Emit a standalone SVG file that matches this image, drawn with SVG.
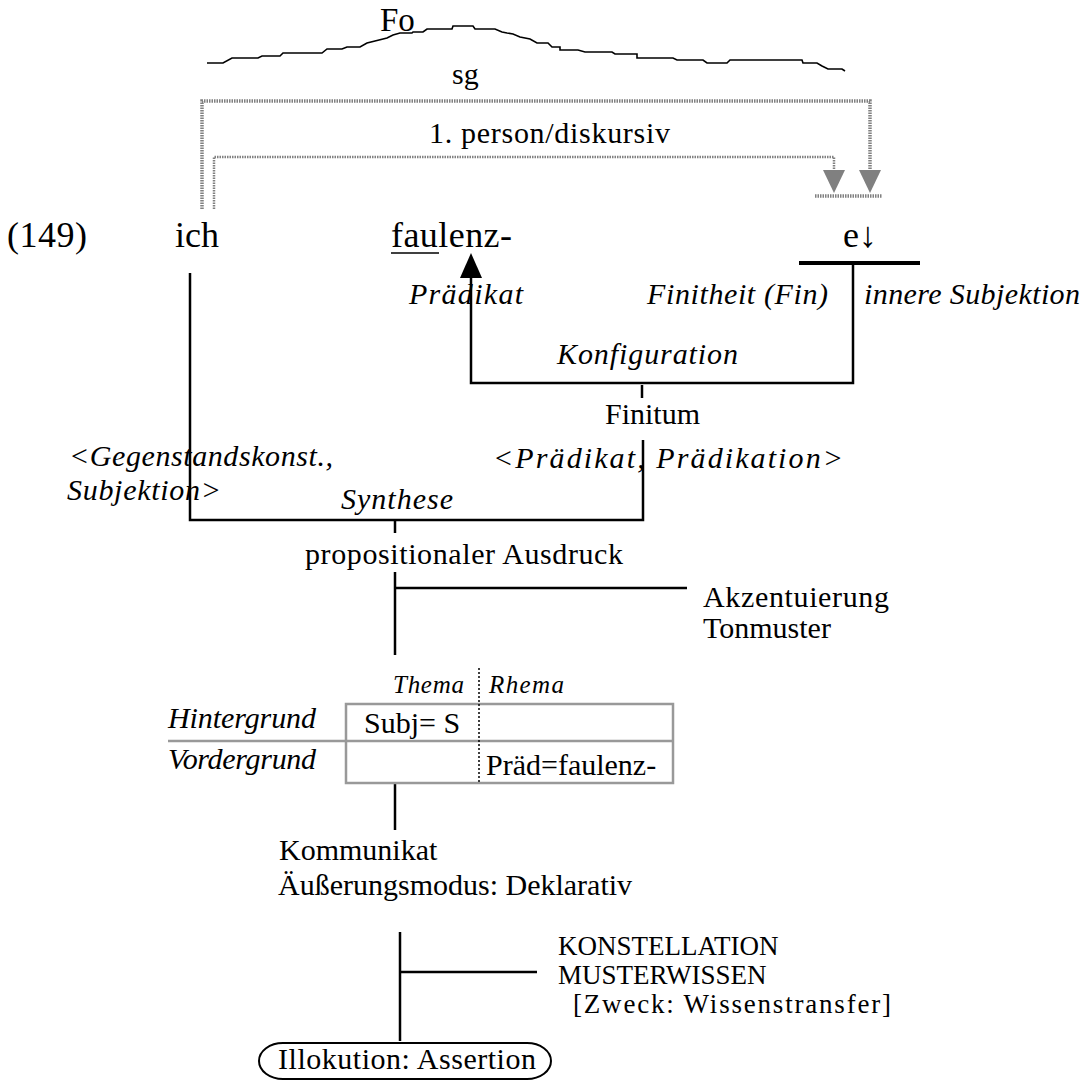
<svg xmlns="http://www.w3.org/2000/svg" width="1088" height="1081" viewBox="0 0 1088 1081">
<style>
text{font-family:"Liberation Serif","Times New Roman",serif;fill:#000}
.t{font-size:30px}
.big{font-size:36px}
.it{font-style:italic;font-size:30px}
.sm{font-style:italic;font-size:25px}
.ks{font-size:27px}
.ln{fill:none;stroke:#000;stroke-width:2.5}
.dot{fill:none;stroke:#808080;stroke-width:3.5;stroke-dasharray:1.5 1}
.gray{fill:none;stroke:#999;stroke-width:2.5}
</style>
<rect width="1088" height="1081" fill="#fff"/>
<g id="contour">
<path d="M207,63 H223 L232,58 H258 L262,56 H280 L283,53 H322 L327,49 H342 L347,47 H360 L367,43 L375,41 L387,38 L393,35 L400,33 H412 L413,32 H423 L427,29 H452 L453,26 H473 L475,29 H495 L502,32 L507,33 L513,34 L520,37 L530,39 L537,43 H548 L552,47 H560 V50 H578 L585,52 H612 L615,54 H637 V58 H673 L677,60 H703 L707,63 H727 L730,60 H802 L803,63 H817 L822,66 L828,69 H842 L845,71" fill="none" stroke="#000" stroke-width="1.6"/>
<text class="t" x="380" y="31" style="font-size:33px">Fo</text>
</g>
<g id="agreement">
<text class="t" x="452" y="84">sg</text>
<text class="t" x="429" y="143" textLength="241">1. person/diskursiv</text>
<path class="dot" d="M202,209 V101 H870 V172"/>
<path class="dot" d="M214,209 V157 H834 V172" style="stroke-width:2.5"/>
<polygon points="823,170 845,170 834,193" fill="#808080"/>
<polygon points="859,170 881,170 870,193" fill="#808080"/>
<line class="dot" x1="815" y1="196" x2="882" y2="196"/>
</g>
<g id="row">
<text class="big" x="7" y="247" textLength="80">(149)</text>
<text class="big" x="175" y="247">ich</text>
<text class="big" x="391" y="247" textLength="121">faulenz-</text>
<line x1="391" y1="253" x2="439" y2="253" stroke="#000" stroke-width="1.5"/>
<text class="big" x="843" y="247">e↓</text>
<line x1="799" y1="263" x2="920" y2="263" stroke="#000" stroke-width="4"/>
</g>
<g id="connectors">
<path class="ln" d="M471,277 V383 H853 V263"/>
<polygon points="460,278 482,278 471,253" fill="#000"/>
<line class="ln" x1="642" y1="385" x2="642" y2="398"/>
<path class="ln" d="M190,273 V520 H643 V440"/>
<line class="ln" x1="395" y1="520" x2="395" y2="533"/>
<line class="ln" x1="395" y1="572" x2="395" y2="655"/>
<line class="ln" x1="395" y1="588" x2="687" y2="588"/>
<line class="ln" x1="395" y1="783" x2="395" y2="830"/>
<line class="ln" x1="400" y1="932" x2="400" y2="1041"/>
<line class="ln" x1="400" y1="972" x2="537" y2="972"/>
</g>
<g id="labels">
<text class="it" x="409" y="304" textLength="114">Prädikat</text>
<text class="it" x="647" y="304" textLength="181">Finitheit (Fin)</text>
<text class="it" x="864" y="304" textLength="216">innere Subjektion</text>
<text class="it" x="557" y="364" textLength="181">Konfiguration</text>
<text class="t" x="605" y="424">Finitum</text>
<text class="it" x="69" y="466" textLength="264">&lt;Gegenstandskonst.,</text>
<text class="it" x="67" y="500" textLength="154">Subjektion&gt;</text>
<text class="it" x="493" y="468" textLength="350">&lt;Prädikat, Prädikation&gt;</text>
<text class="it" x="341" y="509" textLength="112">Synthese</text>
</g>
<g id="proposition">
<text class="t" x="305" y="564" textLength="318">propositionaler Ausdruck</text>
<text class="t" x="703" y="607" textLength="186">Akzentuierung</text>
<text class="t" x="703" y="638">Tonmuster</text>
</g>
<g id="table">
<text class="sm" x="393" y="693" textLength="71">Thema</text>
<text class="sm" x="489" y="693" textLength="75">Rhema</text>
<rect x="346" y="704" width="327" height="79" class="gray"/>
<line x1="168" y1="741" x2="673" y2="741" class="gray"/>
<line x1="479" y1="668" x2="479" y2="783" stroke="#000" stroke-width="1.5" stroke-dasharray="2 2"/>
<text class="it" x="168" y="728" textLength="148">Hintergrund</text>
<text class="it" x="168" y="769" textLength="148">Vordergrund</text>
<text class="t" x="364" y="733">Subj= S</text>
<text class="t" x="486" y="775">Präd=faulenz-</text>
</g>
<g id="kommunikat">
<text class="t" x="279" y="860">Kommunikat</text>
<text class="t" x="278" y="895">Äußerungsmodus: Deklarativ</text>
</g>
<g id="konstellation">
<text class="ks" x="558" y="955">KONSTELLATION</text>
<text class="ks" x="558" y="984">MUSTERWISSEN</text>
<text class="ks" x="573" y="1013" textLength="318">[Zweck: Wissenstransfer]</text>
</g>
<g id="illokution">
<rect x="259" y="1043" width="292" height="36" rx="24" ry="18" fill="none" stroke="#000" stroke-width="2"/>
<text class="t" x="278" y="1069" textLength="258">Illokution: Assertion</text>
</g>
</svg>
